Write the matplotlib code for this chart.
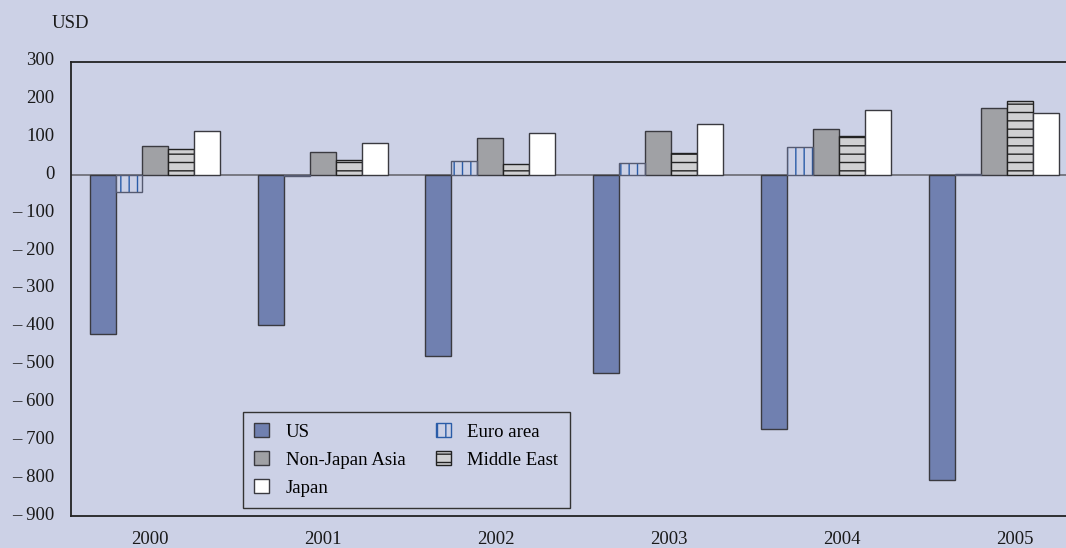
import numpy as np
import matplotlib
matplotlib.use("Agg")
import matplotlib.pyplot as plt
from matplotlib.patches import Patch

plt.rcParams['font.family'] = ['Liberation Serif', 'DejaVu Serif']
plt.rcParams['hatch.linewidth'] = 1.0

# data (USD bn)
years = ['2000', '2001', '2002', '2003', '2004', '2005']
us = [-418, -395, -478, -522, -670, -806]
euro = [-43, -2, 38, 32, 75, 3]
non_japan_asia = [77, 61, 99, 117, 122, 178]
middle_east = [69, 40, 30, 60, 104, 197]
japan = [118, 86, 112, 137, 172, 165]
yticks = [300, 200, 100, 0, -100, -200, -300, -400, -500, -600, -700, -800, -900]

bg = '#CCD1E6'
edge = '#3a3a40'
fig = plt.figure(figsize=(10.66, 5.48), dpi=100, facecolor=bg)
ax = fig.add_axes([71/1066, 32/548, 995/1066, 454/548], facecolor=bg)

x = np.arange(len(years))
w = 0.155
offs = [-2, -1, 0, 1, 2]

ax.axhline(0, color='#6a6a72', lw=1.2, zorder=1)

ax.bar(x + offs[0]*w, us, w, color='#7080B0', edgecolor=edge, lw=1, zorder=3)
# euro: blue vertical hatch, then outline on top
ax.bar(x + offs[1]*w, euro, w, color=bg, edgecolor='#2A5CA8', hatch='||', lw=0, zorder=3)
ax.bar(x + offs[1]*w, euro, w, fill=False, edgecolor='#555a70', lw=1, zorder=4)
ax.bar(x + offs[2]*w, non_japan_asia, w, color='#A0A1A5', edgecolor=edge, lw=1, zorder=3)
ax.bar(x + offs[3]*w, middle_east, w, color='#D0D0D2', edgecolor='#222222', hatch='--', lw=1, zorder=3)
ax.bar(x + offs[4]*w, japan, w, color='white', edgecolor=edge, lw=1, zorder=3)

ax.set_xlim(-0.5, 5.43)
ax.set_ylim(-900, 300)
ax.set_yticks(yticks)
ax.set_yticklabels([str(v) if v >= 0 else '\u2013 ' + str(-v) for v in yticks])
ax.set_xticks(-0.032 + 1.032*x)
ax.set_xticklabels(years)
ax.tick_params(axis='y', length=0, pad=12, labelsize=13.5, colors='#1a1a1a')
ax.tick_params(axis='x', length=0, pad=11, labelsize=13.5, colors='#1a1a1a')
for t in ax.get_yticklabels():
    t.set_transform(t.get_transform() + matplotlib.transforms.ScaledTranslation(0, 3/100, fig.dpi_scale_trans))

for s in ['left', 'top', 'bottom']:
    ax.spines[s].set_color('#222222')
    ax.spines[s].set_linewidth(1.3)
ax.spines['right'].set_visible(False)

fig.text(70/1066, 1 - 23/548, 'USD', ha='center', va='center', fontsize=13.5, color='#1a1a1a')

handles = [
    Patch(facecolor='#7080B0', edgecolor=edge, label='US'),
    Patch(facecolor='#A0A1A5', edgecolor=edge, label='Non-Japan Asia'),
    Patch(facecolor='white', edgecolor=edge, label='Japan'),
    Patch(facecolor=bg, edgecolor='#2A5CA8', hatch='||', label='Euro area'),
    Patch(facecolor='#D0D0D2', edgecolor='#222222', hatch='--', label='Middle East'),
]
leg = ax.legend(handles=handles, ncol=2, loc='lower left', bbox_to_anchor=(0.1726, 0.0176),
                borderaxespad=0, fancybox=False, frameon=True, fontsize=13.5,
                handlelength=0.8, handleheight=0.8, handletextpad=0.9, columnspacing=1.6,
                labelspacing=0.55, borderpad=0.6)
leg.get_frame().set_facecolor(bg)
leg.get_frame().set_edgecolor('#333333')
leg.get_frame().set_linewidth(1.0)
leg.get_frame().set_alpha(1)

fig.savefig('out.png', dpi=100, facecolor=bg)
